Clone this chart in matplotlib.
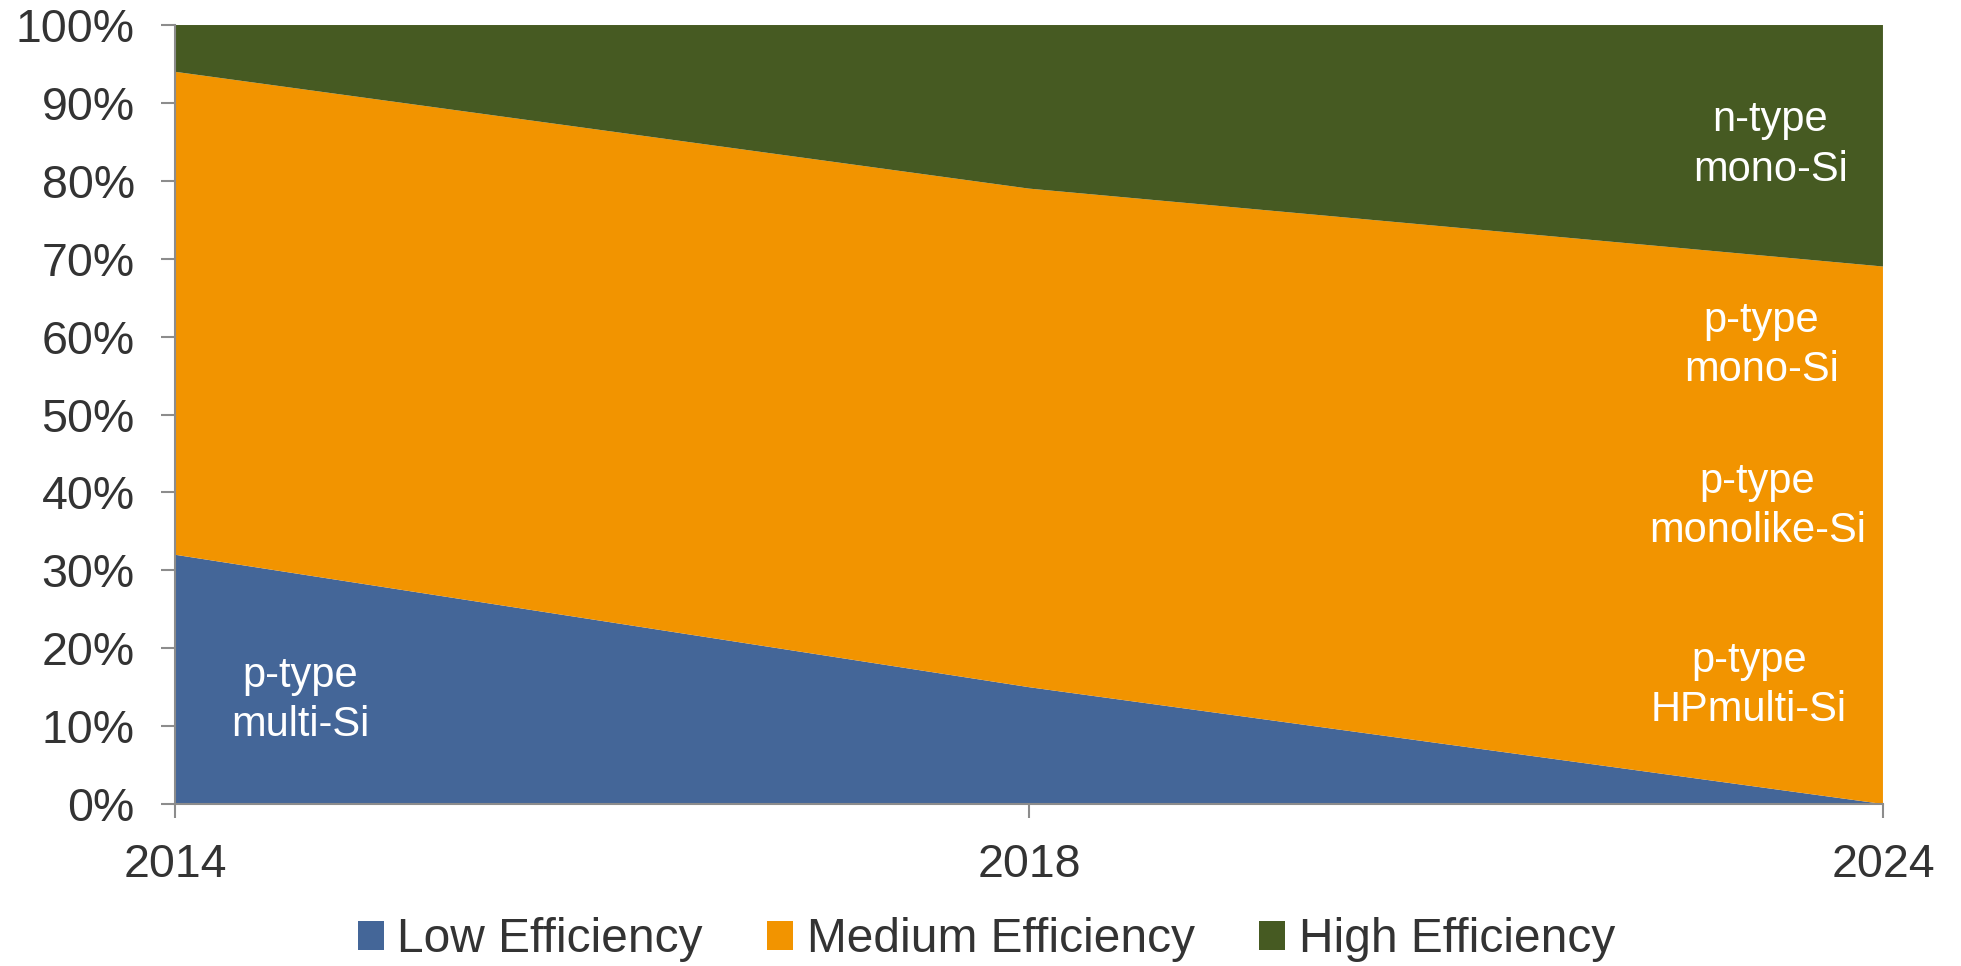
import matplotlib
matplotlib.use("Agg")
import matplotlib.pyplot as plt
from matplotlib.patches import Patch
from matplotlib.ticker import PercentFormatter

years = ["2014", "2018", "2024"]
low = [32, 15, 0]
medium = [62, 64, 69]
high = [6, 21, 31]
series_names = ["Low Efficiency", "Medium Efficiency", "High Efficiency"]
colors = ["#446698", "#F29400", "#465A22"]
yticks = list(range(0, 101, 10))

plt.rcParams['font.family'] = ['Liberation Sans', 'DejaVu Sans']
text_color = "#333333"
spine_color = "#8C8C8C"

fig = plt.figure(figsize=(19.61, 9.66), dpi=100)
ax = fig.add_axes([0.0892, 0.1677, 0.8710, 0.8064])

x = list(range(len(years)))
ax.stackplot(x, low, medium, high, colors=colors, linewidth=0)

ax.set_xlim(0, len(years) - 1)
ax.set_ylim(0, 100)
ax.set_xticks(x)
ax.set_xticklabels(years)
ax.set_yticks(yticks)
ax.yaxis.set_major_formatter(PercentFormatter(decimals=0))

for s in ["top", "right"]:
    ax.spines[s].set_visible(False)
for s in ["left", "bottom"]:
    ax.spines[s].set_color(spine_color)
    ax.spines[s].set_linewidth(1.5)
    ax.spines[s].set_zorder(5)

ax.tick_params(axis="y", direction="out", length=10, width=1.5, color=spine_color,
               labelsize=33.5, labelcolor=text_color, pad=19)
ax.tick_params(axis="x", direction="out", length=10, width=1.5, color=spine_color,
               labelsize=33.5, labelcolor=text_color, pad=18)

# Region labels
ann = dict(color="white", fontsize=30, ha="center", va="center", linespacing=1.3)
ax.text(0.147, 13.3, "p-type\nmulti-Si", **ann)
ax.text(1.868, 84.6, "n-type\nmono-Si", **ann)
ax.text(1.858, 58.9, "p-type\nmono-Si", **ann)
ax.text(1.853, 38.2, "p-type\nmonolike-Si", **ann)
ax.text(1.843, 15.2, "p-type\nHPmulti-Si", **ann)

handles = [Patch(facecolor=c, edgecolor="none") for c in colors]
leg = fig.legend(handles, series_names, loc="center", bbox_to_anchor=(0.503, 0.027),
                 ncol=3, frameon=False, fontsize=34.5, handlelength=0.54,
                 handleheight=0.54, handletextpad=0.28, columnspacing=1.35,
                 borderpad=0, borderaxespad=0)
for t in leg.get_texts():
    t.set_color(text_color)

fig.savefig("out.png", dpi=100)
